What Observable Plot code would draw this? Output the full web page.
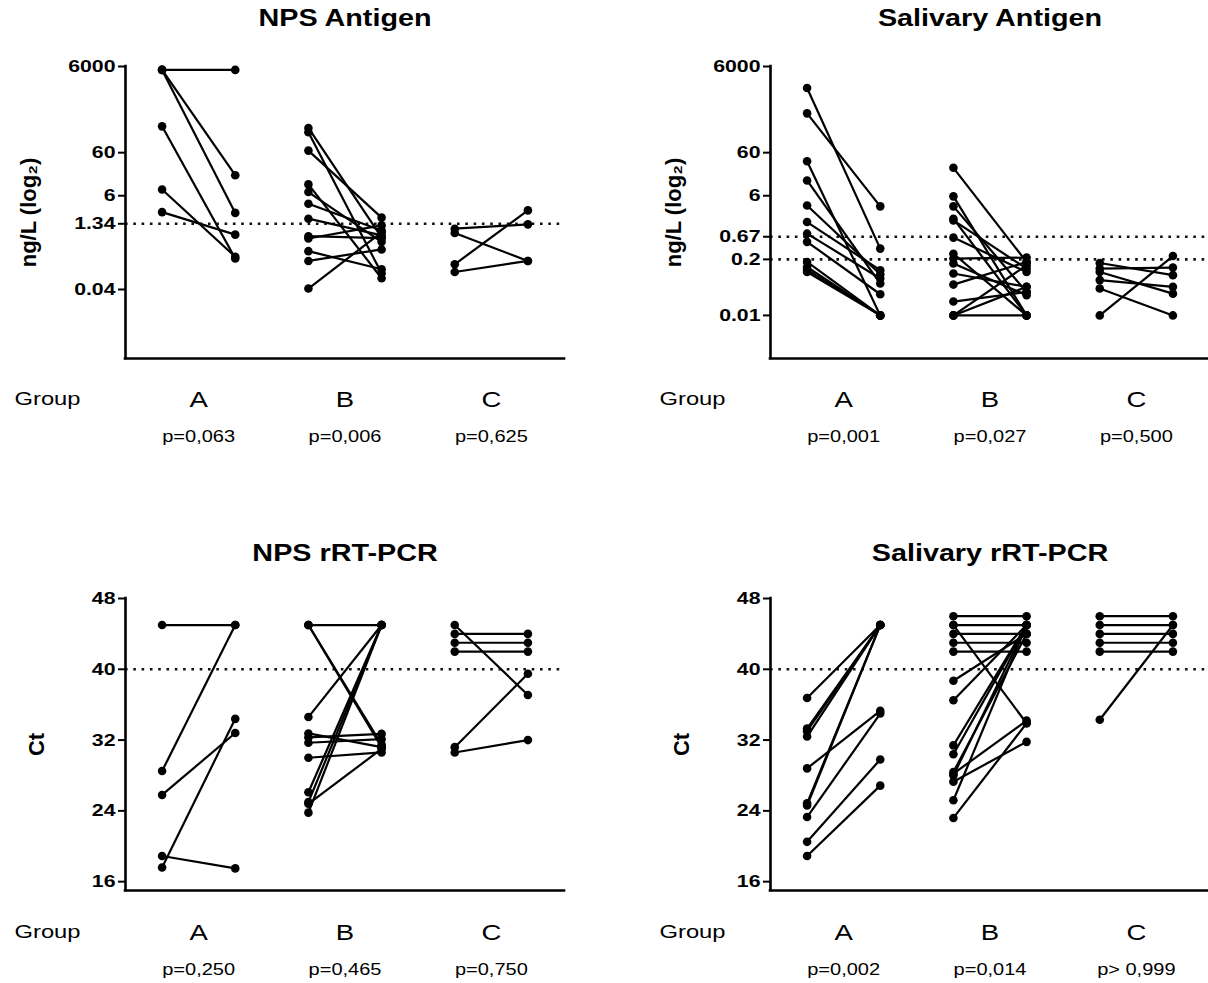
<!DOCTYPE html>
<html>
<head>
<meta charset="utf-8">
<script src="https://cdn.jsdelivr.net/npm/d3@7"></script>
<script src="https://cdn.jsdelivr.net/npm/@observablehq/plot@0.6"></script>
<style>
  html, body { margin: 0; padding: 0; background: #fff; }
  #page { position: relative; width: 1208px; height: 983px; overflow: hidden; background: #fff; }
  .panel { position: absolute; width: 604px; height: 470px; }
  .panel svg { max-width: none !important; }
</style>
</head>
<body>
<div id="page"></div>
<script>
// ---------- data ----------
const groupLabels = ["A", "B", "C"];

// ticks & cut-offs
const antigenDomain = [0.001, 6000];
const ctDomain = [15, 48];
const npsAntigenTicks = [6000, 60, 6, 1.34, 0.04];
const salivaryAntigenTicks = [6000, 60, 6, 0.67, 0.2, 0.01];
const ctTicks = [16, 24, 32, 40, 48];
const npsAntigenCutoffs = [1.34];
const salivaryAntigenCutoffs = [0.67, 0.2];
const ctCutoffs = [40];

// p-values
const npsAntigenP = ["p=0,063", "p=0,006", "p=0,625"];
const salivaryAntigenP = ["p=0,001", "p=0,027", "p=0,500"];
const npsPcrP = ["p=0,250", "p=0,465", "p=0,750"];
const salivaryPcrP = ["p=0,002", "p=0,014", "p> 0,999"];

// paired values [first, second] per group
const npsAntigenA = [[5000, 5000], [5000, 18], [5000, 2.4], [245, 0.21], [8.4, 0.23], [2.5, 0.75]];
const npsAntigenB = [[225, 0.65], [178, 0.095], [67, 1.86], [11, 0.073], [7.3, 0.51], [3.9, 0.94],
                     [1.76, 0.72], [0.69, 0.62], [0.61, 1.23], [0.31, 0.118], [0.184, 0.34], [0.042, 0.85]];
const npsAntigenC = [[1.03, 1.3], [0.82, 0.184], [0.154, 2.74], [0.102, 0.184]];

const salivaryAntigenA = [[1900, 0.356], [490, 3.4], [38, 0.01], [13.6, 0.055], [3.57, 0.09], [1.47, 0.112],
                          [0.79, 0.072], [0.51, 0.031], [0.174, 0.01], [0.133, 0.01], [0.116, 0.01], [0.102, 0.01]];
const salivaryAntigenB = [[26.7, 0.174], [5.8, 0.01], [3.4, 0.035], [1.76, 0.01], [1.61, 0.122], [0.64, 0.102],
                          [0.27, 0.01], [0.209, 0.22], [0.16, 0.0295], [0.094, 0.046], [0.052, 0.174],
                          [0.021, 0.035], [0.01, 0.01], [0.01, 0.046], [0.01, 0.146]];
const salivaryAntigenC = [[0.165, 0.086], [0.122, 0.129], [0.102, 0.032], [0.066, 0.046], [0.042, 0.01], [0.01, 0.239]];

const npsPcrA = [[45, 45], [28.5, 45], [25.8, 32.8], [18.9, 17.5], [17.6, 34.4]];
const npsPcrB = [[45, 45], [45, 31.5], [45, 31.2], [34.6, 45], [32.75, 31.2], [32.3, 32.7], [31.7, 32.1],
                 [30.0, 30.6], [26.1, 45], [25.0, 45], [24.8, 31.0], [23.8, 45]];
const npsPcrC = [[45, 37.1], [44, 44], [43, 43], [42, 42], [31.2, 39.5], [30.6, 32.0]];

const salivaryPcrA = [[36.75, 45], [33.3, 45], [33.0, 45], [32.4, 45], [28.8, 35.3], [24.85, 45], [24.6, 45],
                      [23.3, 35.0], [20.5, 29.8], [18.9, 26.85]];
const salivaryPcrB = [[46, 46], [45, 45], [44, 44], [43, 43], [42, 42], [45, 33.9], [38.7, 44], [36.5, 45],
                      [31.4, 45], [30.4, 45], [28.4, 44], [28.0, 45], [27.3, 31.8], [28.2, 34.2], [25.2, 45], [23.2, 33.9]];
const salivaryPcrC = [[46, 46], [45, 45], [44, 44], [43, 43], [42, 42], [34.3, 45]];

// ---------- drawing ----------
const FONT = "'Liberation Sans', Arial, Helvetica, sans-serif";

function makePanel(cfg) {
  const rows = [];
  cfg.groups.forEach((pairs, g) => pairs.forEach(([pre, post]) => rows.push({g, pre, post})));
  const pts = rows.flatMap(d => [{x: d.g * 2, y: d.pre}, {x: d.g * 2 + 1, y: d.post}]);
  return Plot.plot({
    width: 604, height: 470,
    marginLeft: 125, marginRight: 40, marginTop: 66, marginBottom: 112,
    style: {fontFamily: FONT, background: "transparent", color: "black", overflow: "visible", maxWidth: "none"},
    x: {domain: [-0.5, 5.5], axis: null},
    y: {type: cfg.yType, domain: cfg.yDomain, axis: null},
    marks: [
      Plot.ruleY(cfg.cutoffs, {stroke: "#111", strokeWidth: 2.6, strokeDasharray: "2.6 5.7"}),
      Plot.link(rows, {x1: d => d.g * 2, x2: d => d.g * 2 + 1, y1: "pre", y2: "post", stroke: "black", strokeWidth: 2.2}),
      Plot.dot(pts, {x: "x", y: "y", r: 4.3, fill: "black", stroke: "none"}),
      Plot.ruleX([-0.5], {stroke: "black", strokeWidth: 2.6, strokeLinecap: "square"}),
      Plot.ruleY([cfg.yDomain[0]], {stroke: "black", strokeWidth: 2.6, strokeLinecap: "square"}),
      Plot.axisY(cfg.yTicks, {tickSize: 7, tickPadding: 3, strokeWidth: 2, tickFormat: () => "", label: null}),
      Plot.text(cfg.yTicks, {y: d => d, text: d => String(d), frameAnchor: "left", dx: -10, fontSize: 17,
                             fontWeight: "bold", textAnchor: "end", lineAnchor: "middle"}),
      Plot.text([cfg.title], {text: d => d, frameAnchor: "top", dy: cfg.titleDy, fontSize: 23, fontWeight: "bold",
                              textAnchor: "middle", lineAnchor: "middle"}),
      Plot.text([cfg.ylabel], {text: d => d, frameAnchor: "left", dx: cfg.ylabelDx, rotate: -90, fontSize: 22,
                               fontWeight: "bold", textAnchor: "middle", lineAnchor: "middle"}),
      Plot.text(["Group"], {text: d => d, frameAnchor: "bottom-left", dx: -111, dy: cfg.groupDy, fontSize: 19,
                            textAnchor: "start", lineAnchor: "middle"}),
      Plot.text(groupLabels, {text: d => d, x: (d, i) => i * 2 + 0.5, frameAnchor: "bottom", dy: cfg.groupDy + 1,
                              fontSize: 22, textAnchor: "middle", lineAnchor: "middle"}),
      Plot.text(cfg.pValues, {text: d => d, x: (d, i) => i * 2 + 0.5, frameAnchor: "bottom", dy: cfg.pDy,
                              fontSize: 16, textAnchor: "middle", lineAnchor: "middle"})
    ]
  });
}

const panels = [
  {left: 0, top: 0, title: "NPS Antigen", ylabel: "ng/L (log\u2082)", yType: "log", yDomain: antigenDomain,
   yTicks: npsAntigenTicks, cutoffs: npsAntigenCutoffs, groups: [npsAntigenA, npsAntigenB, npsAntigenC],
   pValues: npsAntigenP, titleDy: -48, ylabelDx: -97, groupDy: 40, pDy: 78},
  {left: 645, top: 0, title: "Salivary Antigen", ylabel: "ng/L (log\u2082)", yType: "log", yDomain: antigenDomain,
   yTicks: salivaryAntigenTicks, cutoffs: salivaryAntigenCutoffs, groups: [salivaryAntigenA, salivaryAntigenB, salivaryAntigenC],
   pValues: salivaryAntigenP, titleDy: -48, ylabelDx: -97, groupDy: 40, pDy: 78},
  {left: 0, top: 532, title: "NPS rRT-PCR", ylabel: "Ct", yType: "linear", yDomain: ctDomain,
   yTicks: ctTicks, cutoffs: ctCutoffs, groups: [npsPcrA, npsPcrB, npsPcrC],
   pValues: npsPcrP, titleDy: -45, ylabelDx: -89, groupDy: 41, pDy: 79},
  {left: 645, top: 532, title: "Salivary rRT-PCR", ylabel: "Ct", yType: "linear", yDomain: ctDomain,
   yTicks: ctTicks, cutoffs: ctCutoffs, groups: [salivaryPcrA, salivaryPcrB, salivaryPcrC],
   pValues: salivaryPcrP, titleDy: -45, ylabelDx: -89, groupDy: 41, pDy: 79}
];

const page = document.getElementById("page");
for (const cfg of panels) {
  const div = document.createElement("div");
  div.className = "panel";
  div.style.left = cfg.left + "px";
  div.style.top = cfg.top + "px";
  div.append(makePanel(cfg));
  page.append(div);
}

// The reference figure is horizontally stretched: widen horizontal texts accordingly
const STRETCH = 1.25;
page.querySelectorAll("svg text").forEach(t => {
  const tr = t.getAttribute("transform") || "";
  if (tr.includes("rotate")) return;
  const L = t.getComputedTextLength();
  if (L > 0) {
    t.setAttribute("textLength", (L * STRETCH).toFixed(2));
    t.setAttribute("lengthAdjust", "spacingAndGlyphs");
  }
});
</script>
</body>
</html>
